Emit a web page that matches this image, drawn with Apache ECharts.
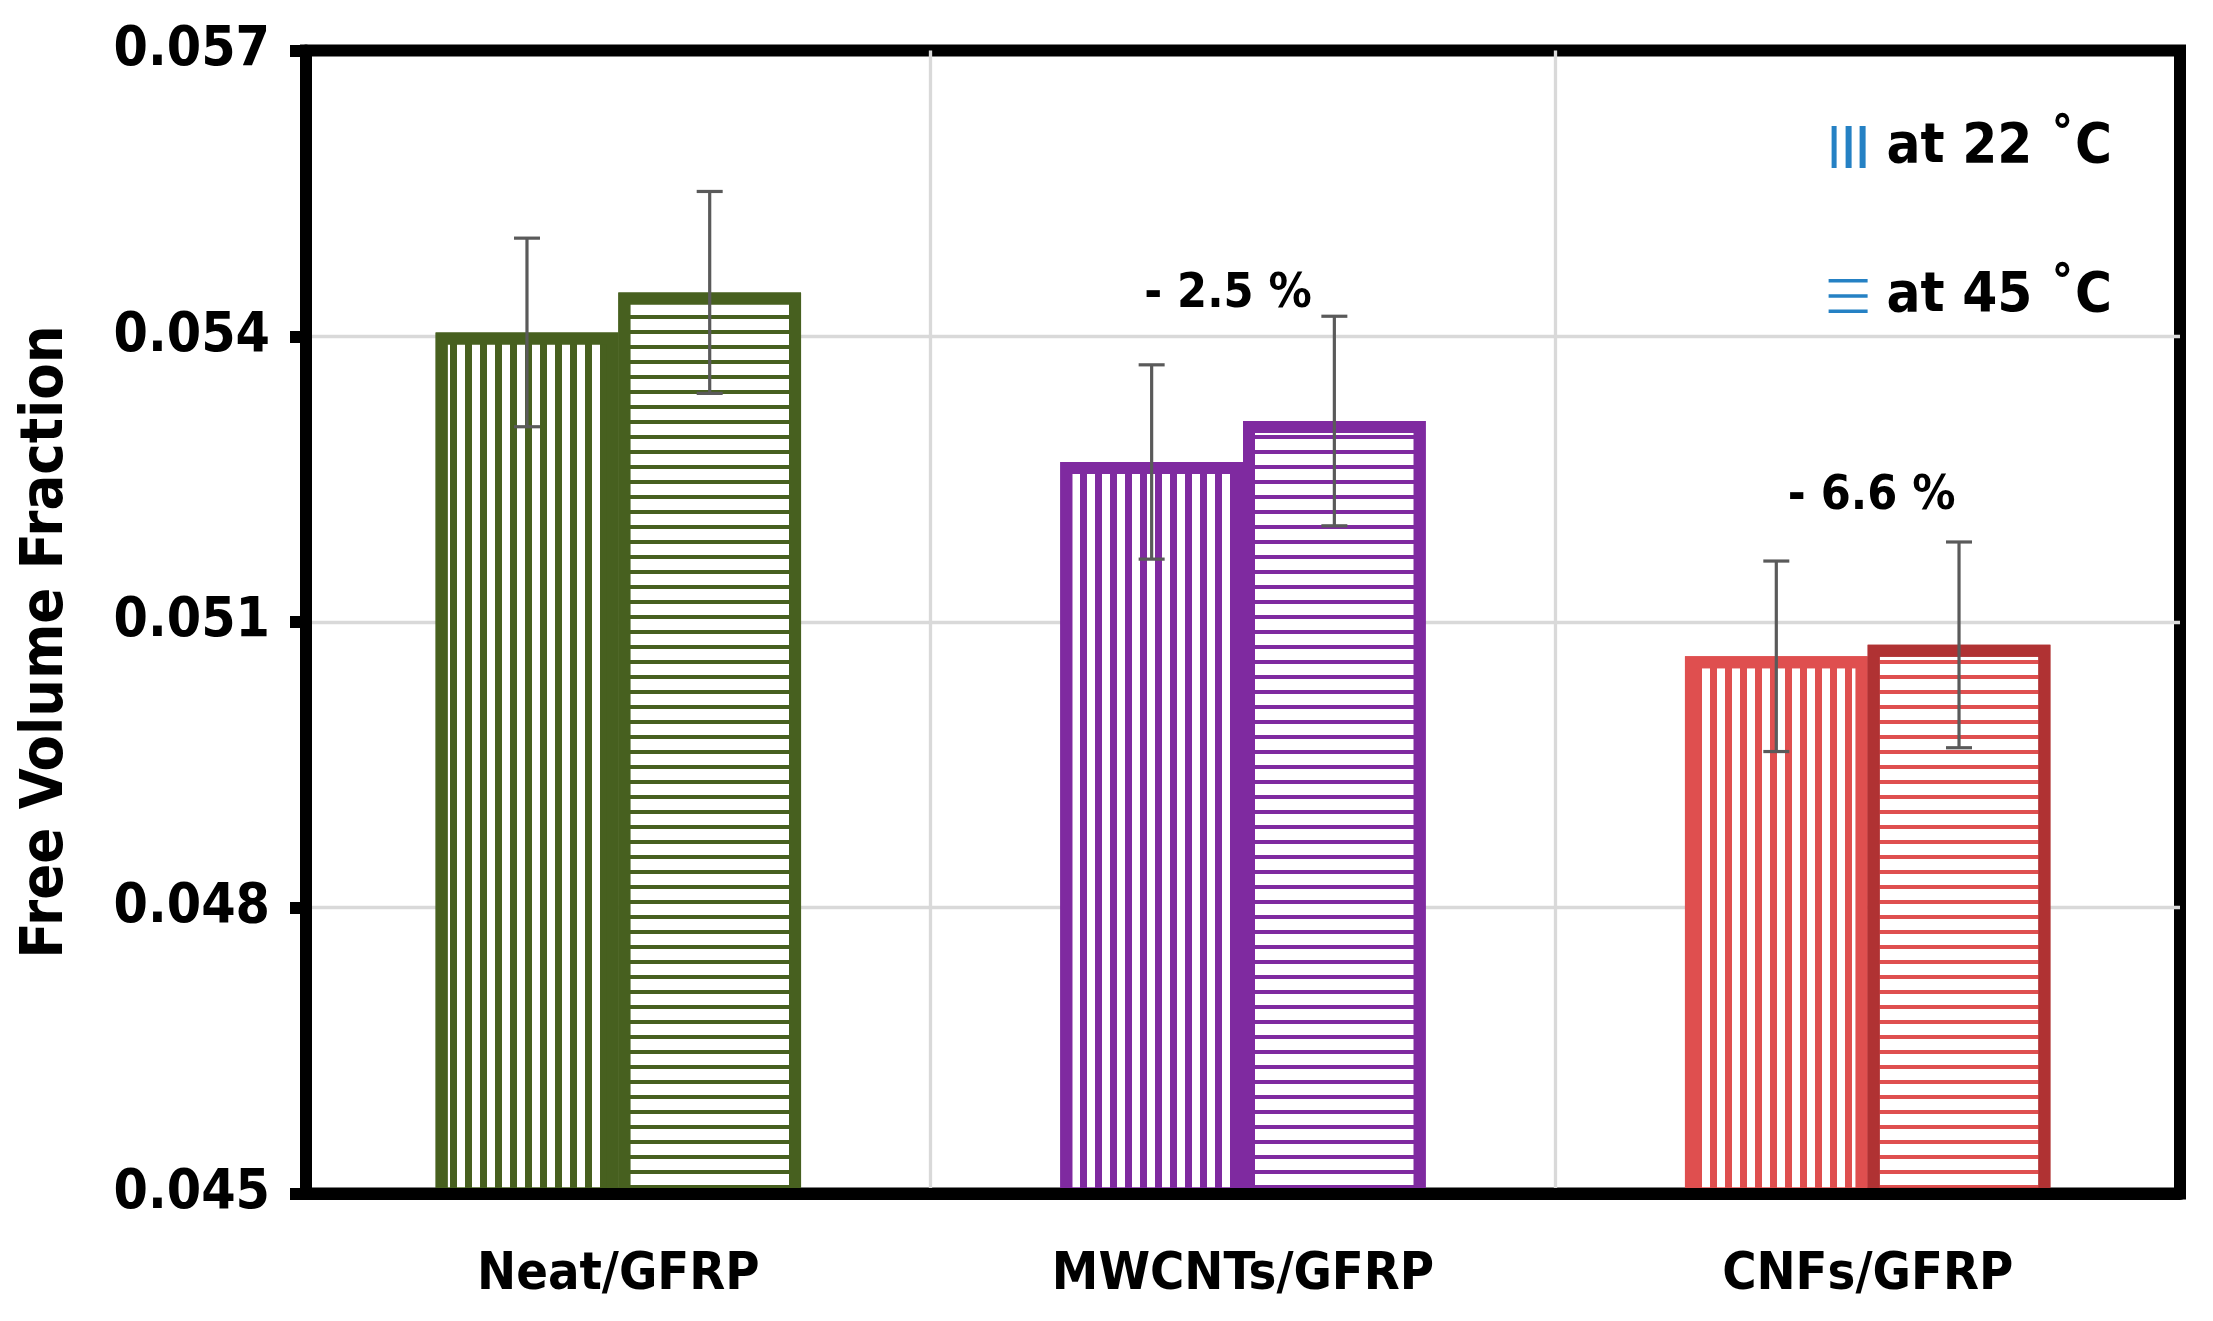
<!DOCTYPE html>
<html><head><meta charset="utf-8">
<script src="https://cdn.jsdelivr.net/npm/echarts@6/dist/echarts.min.js"></script>
<style>html,body{margin:0;padding:0;background:#fff}#c{width:2213px;height:1321px}</style>
</head><body><div id="c"></div>
<script>
const categories = ['Neat/GFRP', 'MWCNTs/GFRP', 'CNFs/GFRP'];
const values22 = [0.05404, 0.05268, 0.05064];
const values45 = [0.05446, 0.05311, 0.05076];
const err22 = [0.00099, 0.00102, 0.00100];
const err45 = [0.00106, 0.00110, 0.00108];
const yMin = 0.045, yMax = 0.057, yInterval = 0.003;
const legendNames = ['at 22 \u02DAC', 'at 45 \u02DAC'];
const annoCategory = [1, 2];
const annoValue = [0.05444, 0.05232];
const annoText = ['- 2.5 %', '- 6.6 %'];

const borderColors22 = ['#47601f', '#7f2aa0', '#df4f4f'];
const borderColors45 = ['#47601f', '#7f2aa0', '#b03233'];
const stripeColors = ['#47601f', '#7f2aa0', '#df4f4f'];
const annoOffsetX = [-15, 4];

const CF = "'DejaVu Sans Condensed', 'Liberation Sans Narrow', 'DejaVu Sans', sans-serif";
const GAP = 0.415;

function vertDecal(c) { return { symbol: 'rect', symbolSize: 1, color: c, dashArrayX: [7, 8], dashArrayY: [10, 0] }; }
function horizDecal(c) { return { symbol: 'rect', symbolSize: 1, color: c, dashArrayX: [10, 0], dashArrayY: [4, 11] }; }

function barData(vals, borders, decalFn) {
  return vals.map((v, i) => ({
    value: v,
    itemStyle: { color: '#ffffff', borderColor: borders[i], borderWidth: 12, decal: decalFn(stripeColors[i]) }
  }));
}

function errSeries(vals, errs, sign) {
  return {
    type: 'custom', z: 6, silent: true,
    data: vals.map((v, i) => [i, v, errs[i]]),
    encode: { x: 0, y: 1 },
    renderItem(params, api) {
      const i = api.value(0), v = api.value(1), e = api.value(2);
      const band = api.size([1, 0])[0];
      const bw = band * (1 - GAP) / 2;
      const x = api.coord([i, v])[0] + sign * bw / 2;
      const yt = api.coord([i, v + e])[1];
      const yb = api.coord([i, v - e])[1];
      const cap = 13;
      const st = { stroke: '#5a5a5a', lineWidth: 3.2 };
      return { type: 'group', children: [
        { type: 'line', shape: { x1: x, y1: yt, x2: x, y2: yb }, style: st },
        { type: 'line', shape: { x1: x - cap, y1: yt, x2: x + cap, y2: yt }, style: st },
        { type: 'line', shape: { x1: x - cap, y1: yb, x2: x + cap, y2: yb }, style: st }
      ]};
    }
  };
}

const chart = echarts.init(document.getElementById('c'));
chart.setOption({
  animation: false,
  backgroundColor: '#ffffff',
  grid: { left: 306, right: 33, top: 50.5, bottom: 127.5, show: true, borderColor: '#000', borderWidth: 12, backgroundColor: 'transparent' },
  legend: {
    orient: 'vertical', right: 96, top: 112, itemGap: 89,
    itemWidth: 39, itemHeight: 42, align: 'left',
    selectedMode: false,
    itemStyle: { color: '#2581c4', borderWidth: 0, decal: 'none' },
    textStyle: { fontFamily: CF, fontWeight: 'bold', fontSize: 56, color: '#000', lineHeight: 60, padding: [0, 0, 0, 14] },
    data: [
      { name: legendNames[0], icon: 'path://M0,0h0M39,42h0M3,0h5v42h-5zM17,0h6v42h-6zM31,0h6v42h-6z' },
      { name: legendNames[1], icon: 'path://M0,0h0M39,42h0M0,4h39v3.5h-39zM0,19.3h39v3.5h-39zM0,34.6h39v3.5h-39z' }
    ]
  },
  xAxis: {
    type: 'category', data: categories, z: 10,
    axisLine: { show: true, lineStyle: { color: '#000', width: 12 } },
    axisTick: { show: false },
    axisLabel: { fontFamily: CF, fontWeight: 'bold', fontSize: 52, color: '#000', margin: 56 },
    splitLine: { show: true, showMinLine: false, showMaxLine: false, lineStyle: { color: '#d9d9d9', width: 3.3 } }
  },
  yAxis: {
    type: 'value', min: yMin, max: yMax, interval: yInterval,
    name: 'Free Volume Fraction', nameLocation: 'middle', nameGap: 230,
    nameTextStyle: { fontFamily: CF, fontWeight: 'bold', fontSize: 59, color: '#000', padding: [0, 40, 0, 0] },
    axisLine: { show: true, lineStyle: { color: '#000', width: 12 } },
    axisTick: { show: true, length: 16, lineStyle: { color: '#000', width: 12 } },
    axisLabel: { fontFamily: CF, fontWeight: 'bold', fontSize: 55, color: '#000', margin: 36, formatter: v => v.toFixed(3) },
    splitLine: { show: true, showMinLine: false, showMaxLine: false, lineStyle: { color: '#d9d9d9', width: 3.3 } }
  },
  series: [
    { name: legendNames[0], type: 'bar', barGap: '0%', barCategoryGap: (GAP * 100) + '%', z: 2,
      data: barData(values22, borderColors22, vertDecal) },
    { name: legendNames[1], type: 'bar', barGap: '0%', barCategoryGap: (GAP * 100) + '%', z: 2,
      data: barData(values45, borderColors45, horizDecal) },
    errSeries(values22, err22, -1),
    errSeries(values45, err45, 1),
    { type: 'scatter', symbolSize: 0, z: 7, silent: true,
      itemStyle: { color: '#000', opacity: 1 },
      label: { show: true, position: 'inside', color: '#000', opacity: 1, textBorderWidth: 0,
        fontFamily: CF, fontWeight: 'bold', fontSize: 48 },
      data: annoCategory.map((c, i) => ({
        value: [c, annoValue[i]],
        label: { formatter: annoText[i], offset: [annoOffsetX[i], 0], color: '#000' }
      })) }
  ]
});
</script></body></html>
